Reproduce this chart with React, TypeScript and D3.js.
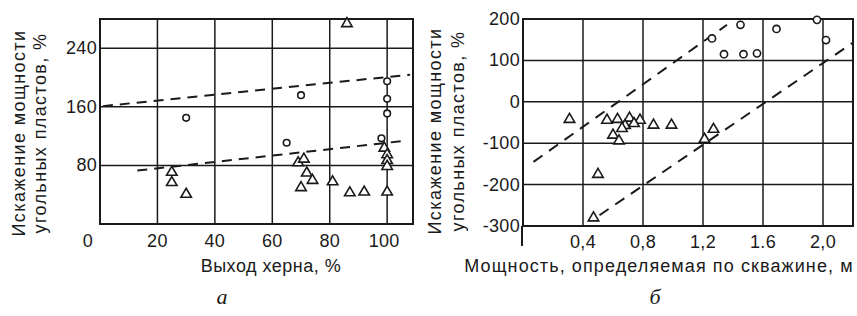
import React from "react";
import * as d3 from "d3";

// ---------- Panel a ----------
const aXTicks = [0, 20, 40, 60, 80, 100];
const aYTicks = [80, 160, 240];
const aCircleX = [30, 70, 65, 100, 100, 100, 98];
const aCircleY = [145, 176, 111, 195, 171, 151, 117];
const aTriX = [25, 25, 30, 86, 69, 71, 72, 74, 70, 81, 87, 92, 99, 100, 100, 100, 100];
const aTriY = [72, 58, 42, 275, 85, 90, 71, 61, 51, 59, 44, 45, 105, 96, 88, 80, 45];
const aLine1X = [1, 108];
const aLine1Y = [161, 204];
const aLine2X = [13, 107];
const aLine2Y = [73, 114];

// ---------- Panel б ----------
const bXTicks = [0.4, 0.8, 1.2, 1.6, 2.0];
const bXTickLabels = ["0,4", "0,8", "1,2", "1.6", "2,0"];
const bYTicks = [200, 100, 0, -100, -200, -300];
const bCircleX = [1.26, 1.45, 1.34, 1.47, 1.56, 1.69, 1.96, 2.02];
const bCircleY = [153, 186, 115, 115, 117, 176, 198, 149];
const bTriX = [0.31, 0.56, 0.63, 0.71, 0.78, 0.87, 0.99, 0.6, 0.64, 0.68, 0.74, 0.66, 0.5, 0.47, 1.27, 1.21];
const bTriY = [-40, -42, -40, -37, -42, -54, -54, -78, -92, -55, -50, -62, -173, -278, -64, -88];
const bLine1X = [0.07, 1.36];
const bLine1Y = [-145, 186];
const bLine2X = [0.51, 2.2];
const bLine2Y = [-274, 143];

const yLabel1 = "Искажение мощности";
const yLabel2 = "угольных пластов, %";
const aXLabel = "Выход херна, %";
const bXLabel = "Мощность, определяемая по скважине, м";

const FONT = "'Liberation Sans', Arial, sans-serif";
const INK = "#1a1a1a";

function Tri({ x, y }: { x: number; y: number }) {
  const s = 5;
  return (
    <path
      d={`M${x},${y - s}L${x + s * 1.05},${y + s * 0.8}L${x - s * 1.05},${y + s * 0.8}Z`}
      fill="white"
      stroke={INK}
      strokeWidth={1.6}
    />
  );
}

export default function App() {
  const ax = d3.scaleLinear().domain([0, 109]).range([100, 413]);
  const ay = d3.scaleLinear().domain([0, 280]).range([224, 19]);
  const bx = d3.scaleLinear().domain([0, 2.2]).range([523, 853]);
  const by = d3.scaleLinear().domain([-300, 200]).range([226, 19]);

  const line = (sx: any, sy: any, xs: number[], ys: number[]) =>
    d3.line<number>().x((_, i) => sx(xs[i])).y((_, i) => sy(ys[i]))(xs.map((_, i) => i)) || "";

  const tickFont = { fontSize: 18, letterSpacing: 0.3 };
  const ylab = { fontSize: 18, letterSpacing: 1.4 };

  return (
    <svg
      width={857}
      height={316}
      style={{ position: "absolute", left: 0, top: 0, background: "white" }}
      fontFamily={FONT}
    >
      <rect width={857} height={316} fill="white" />
      {/* ===== Panel a ===== */}
      <g>
        {aXTicks.filter((t) => t > 0).map((t) => (
          <line key={"agx" + t} x1={ax(t)} x2={ax(t)} y1={ay(280)} y2={ay(0)} stroke={INK} strokeWidth={1.5} />
        ))}
        {aYTicks.map((t) => (
          <line key={"agy" + t} x1={ax(0)} x2={ax(109)} y1={ay(t)} y2={ay(t)} stroke={INK} strokeWidth={1.5} />
        ))}
        <rect x={ax(0)} y={ay(280)} width={ax(109) - ax(0)} height={ay(0) - ay(280)} fill="none" stroke={INK} strokeWidth={2} />
        <path d={line(ax, ay, aLine1X, aLine1Y)} fill="none" stroke={INK} strokeWidth={2} strokeDasharray="10 7" />
        <path d={line(ax, ay, aLine2X, aLine2Y)} fill="none" stroke={INK} strokeWidth={2} strokeDasharray="10 7" />
        {aCircleX.map((v, i) => (
          <circle key={"ac" + i} cx={ax(v)} cy={ay(aCircleY[i])} r={3.3} fill="white" stroke={INK} strokeWidth={1.6} />
        ))}
        {aTriX.map((v, i) => (
          <Tri key={"at" + i} x={ax(v)} y={ay(aTriY[i])} />
        ))}
        {aXTicks.map((t) => (
          <text key={"axl" + t} x={ax(t) - (t === 0 ? 12 : t === 100 ? 3 : 0)} y={247} textAnchor="middle" {...tickFont} fill={INK}>
            {t}
          </text>
        ))}
        {aYTicks.map((t) => (
          <text key={"ayl" + t} x={97} y={ay(t) + 6} textAnchor="end" {...tickFont} fill={INK}>
            {t}
          </text>
        ))}
        <text x={271} y={272} textAnchor="middle" fontSize={18} letterSpacing={0.5} fill={INK}>
          {aXLabel}
        </text>
        <g transform="translate(0,133) rotate(-90)">
          <text x={0} y={25} textAnchor="middle" {...ylab} fill={INK}>
            {yLabel1}
          </text>
          <text x={0} y={46} textAnchor="middle" {...ylab} fill={INK}>
            {yLabel2}
          </text>
        </g>
        <text x={222} y={304} textAnchor="middle" fontSize={22} fontStyle="italic" fontFamily="'Liberation Serif', 'DejaVu Serif', serif" fill={INK}>
          а
        </text>
      </g>

      {/* ===== Panel б ===== */}
      <g>
        {bXTicks.map((t) => (
          <line key={"bgx" + t} x1={bx(t)} x2={bx(t)} y1={by(200)} y2={by(-300)} stroke={INK} strokeWidth={1.5} />
        ))}
        {bYTicks.map((t) => (
          <line key={"bgy" + t} x1={bx(0)} x2={bx(2.2)} y1={by(t)} y2={by(t)} stroke={INK} strokeWidth={1.5} />
        ))}
        <rect x={bx(0)} y={by(200)} width={bx(2.2) - bx(0)} height={by(-300) - by(200)} fill="none" stroke={INK} strokeWidth={2} />
        <line x1={bx(0) - 1} x2={bx(0) - 1} y1={by(-300)} y2={by(-300) + 20} stroke={INK} strokeWidth={2} />
        <path d={line(bx, by, bLine1X, bLine1Y)} fill="none" stroke={INK} strokeWidth={2} strokeDasharray="11 8" />
        <path d={line(bx, by, bLine2X, bLine2Y)} fill="none" stroke={INK} strokeWidth={2} strokeDasharray="11 8" />
        {bCircleX.map((v, i) => (
          <circle key={"bc" + i} cx={bx(v)} cy={by(bCircleY[i])} r={3.6} fill="white" stroke={INK} strokeWidth={1.6} />
        ))}
        {bTriX.map((v, i) => (
          <Tri key={"bt" + i} x={bx(v)} y={by(bTriY[i])} />
        ))}
        {bXTicks.map((t, i) => (
          <text key={"bxl" + t} x={bx(t)} y={248} textAnchor="middle" {...tickFont} fill={INK}>
            {bXTickLabels[i]}
          </text>
        ))}
        {bYTicks.map((t) => (
          <text key={"byl" + t} x={520} y={by(t) + 6} textAnchor="end" {...tickFont} fill={INK}>
            {t}
          </text>
        ))}
        <text x={659} y={272} textAnchor="middle" fontSize={18} letterSpacing={1.1} fill={INK}>
          {bXLabel}
        </text>
        <g transform="translate(420,131) rotate(-90)">
          <text x={0} y={21} textAnchor="middle" {...ylab} fill={INK}>
            {yLabel1}
          </text>
          <text x={0} y={44} textAnchor="middle" {...ylab} fill={INK}>
            {yLabel2}
          </text>
        </g>
        <text x={655} y={304} textAnchor="middle" fontSize={22} fontStyle="italic" fontFamily="'Liberation Serif', 'DejaVu Serif', serif" fill={INK}>
          б
        </text>
      </g>
    </svg>
  );
}
